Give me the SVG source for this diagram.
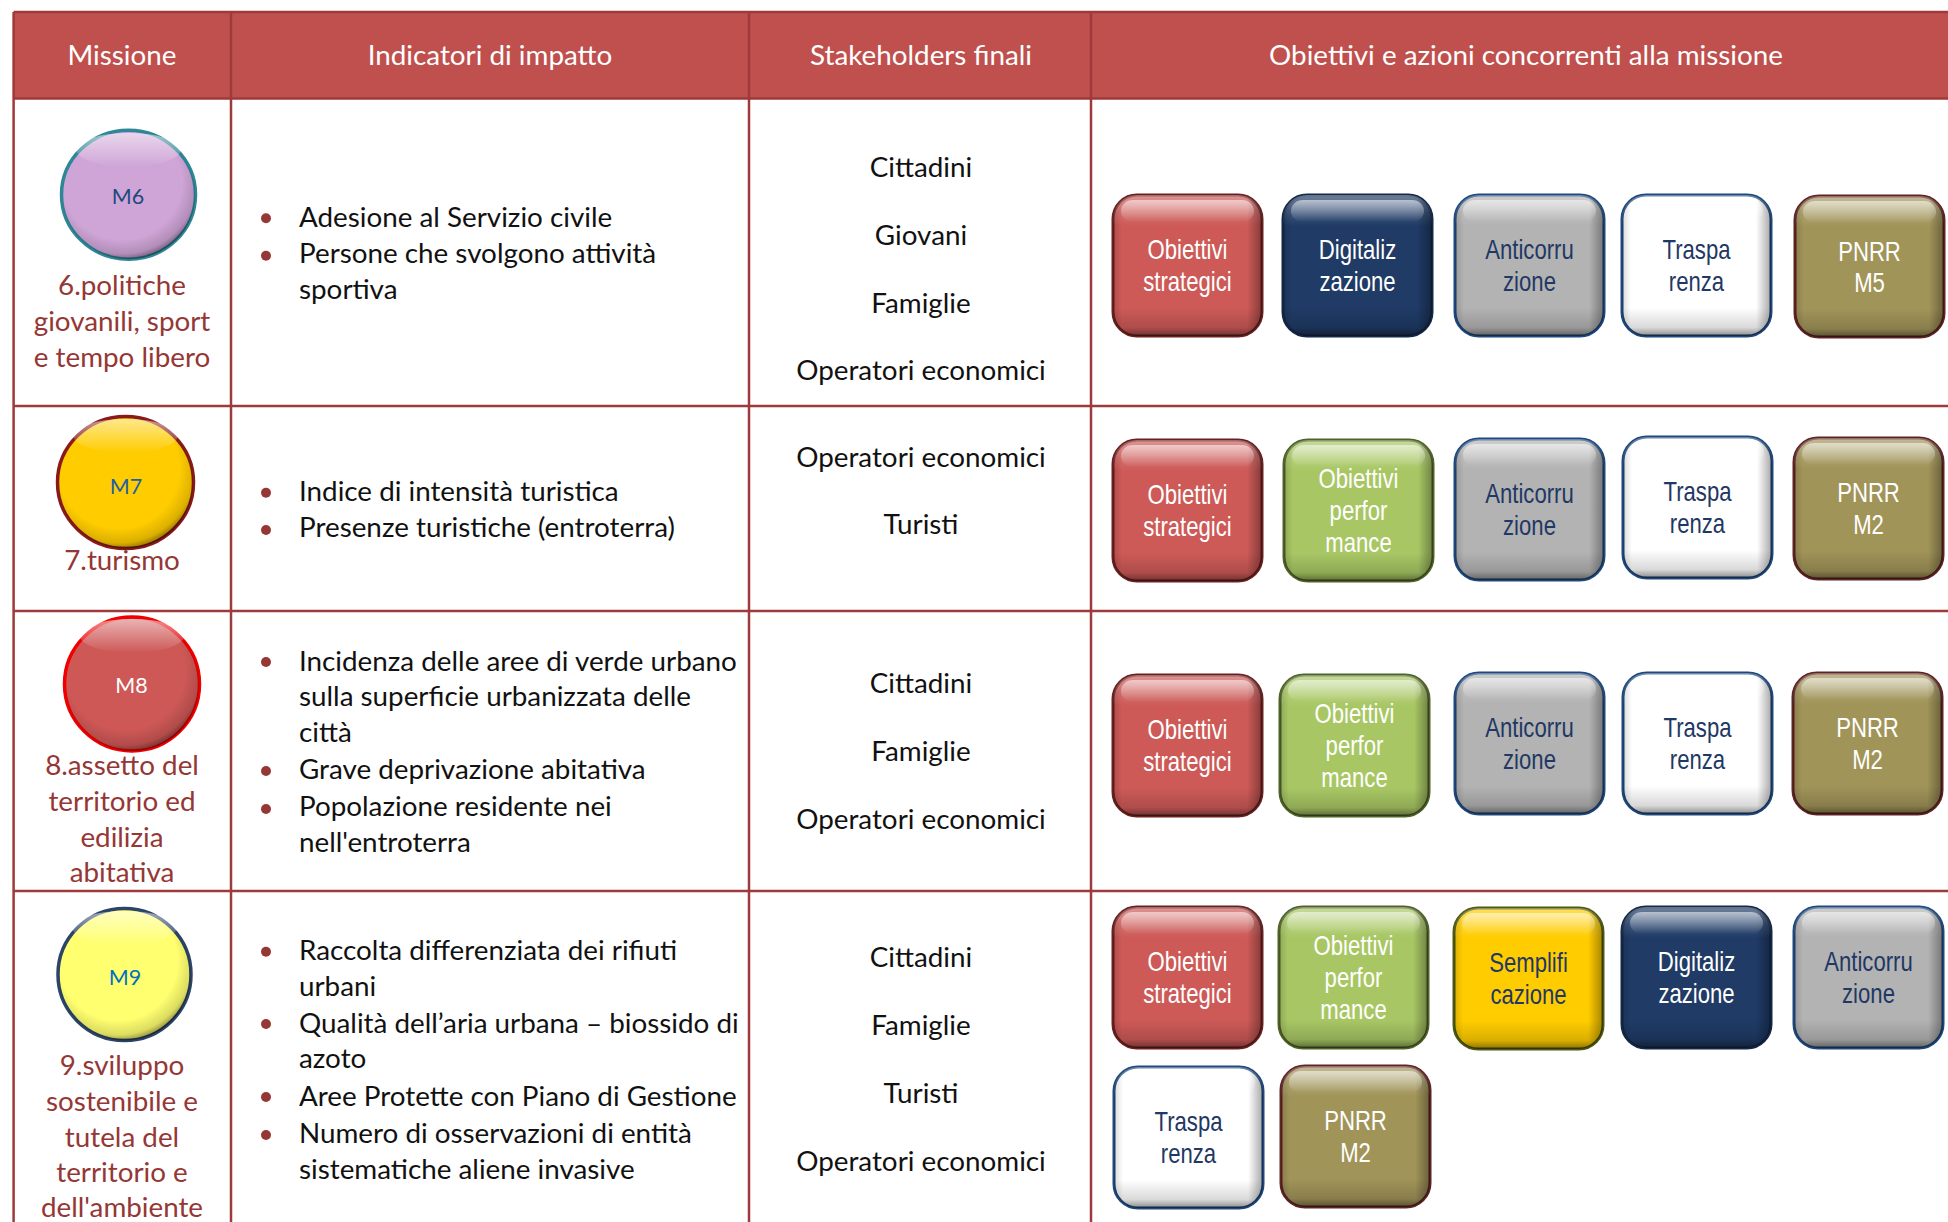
<svg xmlns="http://www.w3.org/2000/svg" xmlns:xlink="http://www.w3.org/1999/xlink" width="1948" height="1222" viewBox="0 0 1948 1222">
<style>
.t{font-family:Lato,"Open Sans","Liberation Sans",sans-serif;font-size:27.8px}
.hd{fill:#fff;text-anchor:middle}
.bd{fill:#111}
.ms{fill:#953735;text-anchor:middle}
.sk{fill:#111;text-anchor:middle}
.mc{font-family:Lato,"Open Sans","Liberation Sans",sans-serif;font-size:21.5px;text-anchor:middle}
.bt{font-family:"Liberation Sans",Arial,sans-serif;font-size:27px;text-anchor:middle}
.tw{fill:#fff}
.tn{fill:#1F3864}
.grid{stroke:#9E3A39;stroke-width:2.5;fill:none}
.bx{stroke-width:3}
.os{fill:#CD5A57;stroke:#6A2020}
.dg{fill:#1F3B66;stroke:#14294A}
.ac{fill:#B3B3B3;stroke:#1F497D}
.tr{fill:#FFFFFF;stroke:#1F497D}
.pn{fill:#A19459;stroke:#5E2424}
.op{fill:#A8C764;stroke:#4F6228}
.sm{fill:#FFCC00;stroke:#4F5A10}
.dot{fill:#953735}
</style>
<defs>
<linearGradient id="gV" x1="0" y1="0" x2="0" y2="1">
<stop offset="0" stop-color="#fff" stop-opacity="0.35"/>
<stop offset="0.13" stop-color="#fff" stop-opacity="0.12"/>
<stop offset="0.22" stop-color="#fff" stop-opacity="0"/>
<stop offset="0.8" stop-color="#000" stop-opacity="0"/>
<stop offset="0.94" stop-color="#000" stop-opacity="0.15"/>
<stop offset="1" stop-color="#000" stop-opacity="0.45"/>
</linearGradient>
<linearGradient id="gH" x1="0" y1="0" x2="1" y2="0">
<stop offset="0" stop-color="#000" stop-opacity="0.15"/>
<stop offset="0.06" stop-color="#000" stop-opacity="0"/>
<stop offset="0.9" stop-color="#000" stop-opacity="0"/>
<stop offset="1" stop-color="#000" stop-opacity="0.35"/>
</linearGradient>
<linearGradient id="gHi" x1="0" y1="0" x2="0" y2="1">
<stop offset="0" stop-color="#fff" stop-opacity="0.55"/>
<stop offset="1" stop-color="#fff" stop-opacity="0"/>
</linearGradient>
<radialGradient id="cSh" cx="0.45" cy="0.4" r="0.62">
<stop offset="0" stop-color="#000" stop-opacity="0"/>
<stop offset="0.72" stop-color="#000" stop-opacity="0"/>
<stop offset="0.9" stop-color="#000" stop-opacity="0.14"/>
<stop offset="1" stop-color="#000" stop-opacity="0.5"/>
</radialGradient>
<g id="bev">
<rect width="149" height="141" rx="24" fill="url(#gV)"/>
<rect width="149" height="141" rx="24" fill="url(#gH)"/>
<rect x="8" y="5" width="133" height="22" rx="12" fill="url(#gHi)"/>
</g>
</defs>

<rect width="1948" height="1222" fill="#fff"/>

<g id="table">
<rect x="13.6" y="12" width="1950" height="86.5" fill="#C0504D"/>
<path class="grid" d="M13.6 12H1960M13.6 98.5H1960M13.6 406H1960M13.6 611H1960M13.6 891H1960M13.6 12V1230M231 12V1230M749 12V1230M1091 12V1230"/>
<text class="t hd" x="122" y="65">Missione</text>
<text class="t hd" x="490" y="65">Indicatori di impatto</text>
<text class="t hd" x="921" y="65">Stakeholders finali</text>
<text class="t hd" x="1526" y="65">Obiettivi e azioni concorrenti alla missione</text>
</g>

<g id="connectors"/>

<!-- Row 1 -->
<g id="m6">
<ellipse cx="128.5" cy="194.7" rx="67" ry="64.5" fill="#CFA5D7" stroke="#2E8797" stroke-width="3.5"/>
<ellipse cx="128.5" cy="194.7" rx="67" ry="64.5" fill="url(#cSh)"/>
<ellipse cx="128.5" cy="150" rx="52" ry="17" fill="url(#gHi)"/>
<text class="mc" x="128" y="203.5" fill="#1F497D">M6</text>
</g>
<g id="m6-label">
<text class="t ms" x="122" y="295">6.politiche</text>
<text class="t ms" x="122" y="331">giovanili, sport</text>
<text class="t ms" x="122" y="367">e tempo libero</text>
</g>
<g id="ind-r1">
<circle class="dot" cx="266" cy="218.3" r="5"/>
<circle class="dot" cx="266" cy="255.7" r="5"/>
<text class="t bd" x="299" y="227">Adesione al Servizio civile</text>
<text class="t bd" x="299" y="263.3">Persone che svolgono attività</text>
<text class="t bd" x="299" y="299">sportiva</text>
</g>
<g id="stk-r1">
<text class="t sk" x="921" y="176.7">Cittadini</text>
<text class="t sk" x="921" y="245">Giovani</text>
<text class="t sk" x="921" y="313">Famiglie</text>
<text class="t sk" x="921" y="380">Operatori economici</text>
</g>
<g id="r1-os" transform="translate(1113,195)">
<rect class="bx os" width="149" height="141" rx="24"/><use href="#bev"/>
<g transform="translate(74.5,0) scale(0.82,1)"><text class="bt tw" y="64.5">Obiettivi</text><text class="bt tw" y="96.5">strategici</text></g>
</g>
<g id="r1-dg" transform="translate(1283,195)">
<rect class="bx dg" width="149" height="141" rx="24"/><use href="#bev"/>
<g transform="translate(74.5,0) scale(0.82,1)"><text class="bt tw" y="64.5">Digitaliz</text><text class="bt tw" y="96.5">zazione</text></g>
</g>
<g id="r1-ac" transform="translate(1455,195)">
<rect class="bx ac" width="149" height="141" rx="24"/><use href="#bev"/>
<g transform="translate(74.5,0) scale(0.82,1)"><text class="bt tn" y="64.5">Anticorru</text><text class="bt tn" y="96.5">zione</text></g>
</g>
<g id="r1-tr" transform="translate(1622,195)">
<rect class="bx tr" width="149" height="141" rx="24"/><use href="#bev"/>
<g transform="translate(74.5,0) scale(0.82,1)"><text class="bt tn" y="64.5">Traspa</text><text class="bt tn" y="96.5">renza</text></g>
</g>
<g id="r1-pn" transform="translate(1795,196)">
<rect class="bx pn" width="149" height="141" rx="24"/><use href="#bev"/>
<g transform="translate(74.5,0) scale(0.82,1)"><text class="bt tw" y="65.5">PNRR</text><text class="bt tw" y="96.5">M5</text></g>
</g>

<!-- Row 2 -->
<g id="m7">
<ellipse cx="125.5" cy="482.5" rx="68" ry="66" fill="#FFCC00" stroke="#8A1A1A" stroke-width="3.5"/>
<ellipse cx="125.5" cy="482.5" rx="68" ry="66" fill="url(#cSh)"/>
<ellipse cx="125.5" cy="436" rx="52" ry="17" fill="url(#gHi)"/>
<text class="mc" x="126" y="494" fill="#2060A8">M7</text>
</g>
<g id="m7-label">
<text class="t ms" x="122" y="570">7.turismo</text>
</g>
<g id="ind-r2">
<circle class="dot" cx="266" cy="492.7" r="5"/>
<circle class="dot" cx="266" cy="530" r="5"/>
<text class="t bd" x="299" y="500.5">Indice di intensità turistica</text>
<text class="t bd" x="299" y="537">Presenze turistiche (entroterra)</text>
</g>
<g id="stk-r2">
<text class="t sk" x="921" y="467">Operatori economici</text>
<text class="t sk" x="921" y="534">Turisti</text>
</g>
<g id="r2-os" transform="translate(1113,440)">
<rect class="bx os" width="149" height="141" rx="24"/><use href="#bev"/>
<g transform="translate(74.5,0) scale(0.82,1)"><text class="bt tw" y="64.5">Obiettivi</text><text class="bt tw" y="96.5">strategici</text></g>
</g>
<g id="r2-op" transform="translate(1284,440)">
<rect class="bx op" width="149" height="141" rx="24"/><use href="#bev"/>
<g transform="translate(74.5,0) scale(0.82,1)"><text class="bt tw" y="48.5">Obiettivi</text><text class="bt tw" y="80.5">perfor</text><text class="bt tw" y="112.5">mance</text></g>
</g>
<g id="r2-ac" transform="translate(1455,439)">
<rect class="bx ac" width="149" height="141" rx="24"/><use href="#bev"/>
<g transform="translate(74.5,0) scale(0.82,1)"><text class="bt tn" y="64.5">Anticorru</text><text class="bt tn" y="96.5">zione</text></g>
</g>
<g id="r2-tr" transform="translate(1623,437)">
<rect class="bx tr" width="149" height="141" rx="24"/><use href="#bev"/>
<g transform="translate(74.5,0) scale(0.82,1)"><text class="bt tn" y="64.5">Traspa</text><text class="bt tn" y="96.5">renza</text></g>
</g>
<g id="r2-pn" transform="translate(1794,438)">
<rect class="bx pn" width="149" height="141" rx="24"/><use href="#bev"/>
<g transform="translate(74.5,0) scale(0.82,1)"><text class="bt tw" y="64.5">PNRR</text><text class="bt tw" y="96.5">M2</text></g>
</g>

<!-- Row 3 -->
<g id="m8">
<ellipse cx="132" cy="684" rx="67.5" ry="67" fill="#CD5856" stroke="#F00000" stroke-width="3.5"/>
<ellipse cx="132" cy="684" rx="67.5" ry="67" fill="url(#cSh)"/>
<ellipse cx="132" cy="636" rx="52" ry="17" fill="url(#gHi)"/>
<text class="mc" x="131.5" y="693" fill="#fff">M8</text>
</g>
<g id="m8-label">
<text class="t ms" x="122" y="775">8.assetto del</text>
<text class="t ms" x="122" y="811">territorio ed</text>
<text class="t ms" x="122" y="847">edilizia</text>
<text class="t ms" x="122" y="882">abitativa</text>
</g>
<g id="ind-r3">
<circle class="dot" cx="266" cy="662" r="5"/>
<circle class="dot" cx="266" cy="771" r="5"/>
<circle class="dot" cx="266" cy="809" r="5"/>
<text class="t bd" x="299" y="670.7">Incidenza delle aree di verde urbano</text>
<text class="t bd" x="299" y="706">sulla superficie urbanizzata delle</text>
<text class="t bd" x="299" y="741.7">città</text>
<text class="t bd" x="299" y="779">Grave deprivazione abitativa</text>
<text class="t bd" x="299" y="816">Popolazione residente nei</text>
<text class="t bd" x="299" y="852">nell'entroterra</text>
</g>
<g id="stk-r3">
<text class="t sk" x="921" y="692.7">Cittadini</text>
<text class="t sk" x="921" y="761">Famiglie</text>
<text class="t sk" x="921" y="828.7">Operatori economici</text>
</g>
<g id="r3-os" transform="translate(1113,675)">
<rect class="bx os" width="149" height="141" rx="24"/><use href="#bev"/>
<g transform="translate(74.5,0) scale(0.82,1)"><text class="bt tw" y="64.5">Obiettivi</text><text class="bt tw" y="96.5">strategici</text></g>
</g>
<g id="r3-op" transform="translate(1280,675)">
<rect class="bx op" width="149" height="141" rx="24"/><use href="#bev"/>
<g transform="translate(74.5,0) scale(0.82,1)"><text class="bt tw" y="48.5">Obiettivi</text><text class="bt tw" y="80.5">perfor</text><text class="bt tw" y="112.5">mance</text></g>
</g>
<g id="r3-ac" transform="translate(1455,673)">
<rect class="bx ac" width="149" height="141" rx="24"/><use href="#bev"/>
<g transform="translate(74.5,0) scale(0.82,1)"><text class="bt tn" y="64.5">Anticorru</text><text class="bt tn" y="96.5">zione</text></g>
</g>
<g id="r3-tr" transform="translate(1623,673)">
<rect class="bx tr" width="149" height="141" rx="24"/><use href="#bev"/>
<g transform="translate(74.5,0) scale(0.82,1)"><text class="bt tn" y="64.5">Traspa</text><text class="bt tn" y="96.5">renza</text></g>
</g>
<g id="r3-pn" transform="translate(1793,673)">
<rect class="bx pn" width="149" height="141" rx="24"/><use href="#bev"/>
<g transform="translate(74.5,0) scale(0.82,1)"><text class="bt tw" y="64.5">PNRR</text><text class="bt tw" y="96.5">M2</text></g>
</g>

<!-- Row 4 -->
<g id="m9">
<ellipse cx="124.5" cy="974.5" rx="66.5" ry="66" fill="#FFFF70" stroke="#2C4466" stroke-width="3.5"/>
<ellipse cx="124.5" cy="974.5" rx="66.5" ry="66" fill="url(#cSh)"/>
<ellipse cx="124.5" cy="928" rx="52" ry="17" fill="url(#gHi)"/>
<text class="mc" x="125" y="985" fill="#0070C0">M9</text>
</g>
<g id="m9-label">
<text class="t ms" x="122" y="1075">9.sviluppo</text>
<text class="t ms" x="122" y="1111">sostenibile e</text>
<text class="t ms" x="122" y="1147">tutela del</text>
<text class="t ms" x="122" y="1182">territorio e</text>
<text class="t ms" x="122" y="1217">dell'ambiente</text>
</g>
<g id="ind-r4">
<circle class="dot" cx="266" cy="951.7" r="5"/>
<circle class="dot" cx="266" cy="1024" r="5"/>
<circle class="dot" cx="266" cy="1097" r="5"/>
<circle class="dot" cx="266" cy="1135" r="5"/>
<text class="t bd" x="299" y="960">Raccolta differenziata dei rifiuti</text>
<text class="t bd" x="299" y="996">urbani</text>
<text class="t bd" x="299" y="1032.7">Qualità dell’aria urbana – biossido di</text>
<text class="t bd" x="299" y="1068">azoto</text>
<text class="t bd" x="299" y="1106">Aree Protette con Piano di Gestione</text>
<text class="t bd" x="299" y="1143">Numero di osservazioni di entità</text>
<text class="t bd" x="299" y="1179">sistematiche aliene invasive</text>
</g>
<g id="stk-r4">
<text class="t sk" x="921" y="967">Cittadini</text>
<text class="t sk" x="921" y="1035.3">Famiglie</text>
<text class="t sk" x="921" y="1103.3">Turisti</text>
<text class="t sk" x="921" y="1171">Operatori economici</text>
</g>
<g id="r4-os" transform="translate(1113,907)">
<rect class="bx os" width="149" height="141" rx="24"/><use href="#bev"/>
<g transform="translate(74.5,0) scale(0.82,1)"><text class="bt tw" y="64.5">Obiettivi</text><text class="bt tw" y="96.5">strategici</text></g>
</g>
<g id="r4-op" transform="translate(1279,907)">
<rect class="bx op" width="149" height="141" rx="24"/><use href="#bev"/>
<g transform="translate(74.5,0) scale(0.82,1)"><text class="bt tw" y="48.5">Obiettivi</text><text class="bt tw" y="80.5">perfor</text><text class="bt tw" y="112.5">mance</text></g>
</g>
<g id="r4-sm" transform="translate(1454,908)">
<rect class="bx sm" width="149" height="141" rx="24"/><use href="#bev"/>
<g transform="translate(74.5,0) scale(0.82,1)"><text class="bt tn" y="64.5">Semplifi</text><text class="bt tn" y="96.5">cazione</text></g>
</g>
<g id="r4-dg" transform="translate(1622,907)">
<rect class="bx dg" width="149" height="141" rx="24"/><use href="#bev"/>
<g transform="translate(74.5,0) scale(0.82,1)"><text class="bt tw" y="64.5">Digitaliz</text><text class="bt tw" y="96.5">zazione</text></g>
</g>
<g id="r4-ac" transform="translate(1794,907)">
<rect class="bx ac" width="149" height="141" rx="24"/><use href="#bev"/>
<g transform="translate(74.5,0) scale(0.82,1)"><text class="bt tn" y="64.5">Anticorru</text><text class="bt tn" y="96.5">zione</text></g>
</g>
<g id="r4-tr" transform="translate(1114,1067)">
<rect class="bx tr" width="149" height="141" rx="24"/><use href="#bev"/>
<g transform="translate(74.5,0) scale(0.82,1)"><text class="bt tn" y="64.5">Traspa</text><text class="bt tn" y="96.5">renza</text></g>
</g>
<g id="r4-pn" transform="translate(1281,1066)">
<rect class="bx pn" width="149" height="141" rx="24"/><use href="#bev"/>
<g transform="translate(74.5,0) scale(0.82,1)"><text class="bt tw" y="64.5">PNRR</text><text class="bt tw" y="96.5">M2</text></g>
</g>
</svg>
